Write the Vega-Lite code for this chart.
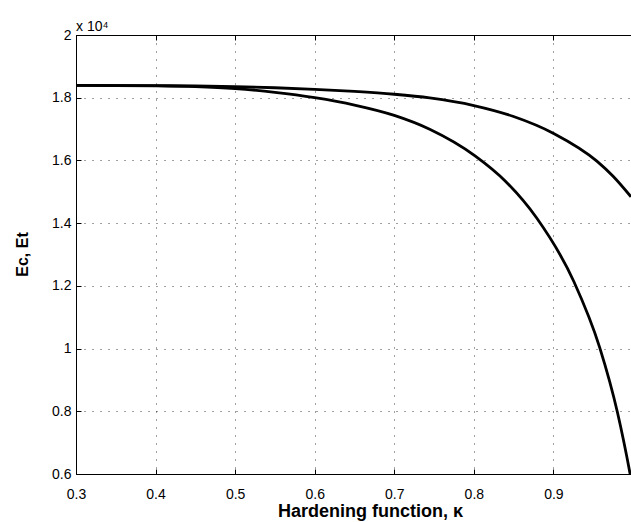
{
  "$schema": "https://vega.github.io/schema/vega-lite/v6.json",
  "width": 555,
  "height": 439,
  "autosize": {"type": "none"},
  "padding": {"left": 76, "top": 35, "right": 0, "bottom": 48},
  "background": "white",
  "config": {
    "view": {"stroke": null},
    "font": "Liberation Sans",
    "axis": {"labelFont": "Liberation Sans", "titleFont": "Liberation Sans", "labelColor": "#000", "titleColor": "#000"}
  },
  "title": {"text": "x 10⁴", "anchor": "start", "frame": "group", "fontSize": 14, "fontWeight": "normal", "font": "Liberation Sans", "color": "#000", "baseline": "alphabetic", "offset": -17},
  "data": {"values": [
    {"kappa": 0.30, "E": 18396, "series": "Et"},
    {"kappa": 0.40, "E": 18386, "series": "Et"},
    {"kappa": 0.45, "E": 18374, "series": "Et"},
    {"kappa": 0.50, "E": 18352, "series": "Et"},
    {"kappa": 0.55, "E": 18317, "series": "Et"},
    {"kappa": 0.60, "E": 18267, "series": "Et"},
    {"kappa": 0.65, "E": 18200, "series": "Et"},
    {"kappa": 0.70, "E": 18110, "series": "Et"},
    {"kappa": 0.7445, "E": 17993, "series": "Et"},
    {"kappa": 0.80, "E": 17751, "series": "Et"},
    {"kappa": 0.849, "E": 17409, "series": "Et"},
    {"kappa": 0.9009, "E": 16854, "series": "Et"},
    {"kappa": 0.9546, "E": 15979, "series": "Et"},
    {"kappa": 0.975, "E": 15496, "series": "Et"},
    {"kappa": 0.9975, "E": 14841, "series": "Et"},
    {"kappa": 0.30, "E": 18396, "series": "Ec"},
    {"kappa": 0.40, "E": 18378, "series": "Ec"},
    {"kappa": 0.45, "E": 18352, "series": "Ec"},
    {"kappa": 0.50, "E": 18290, "series": "Ec"},
    {"kappa": 0.55, "E": 18170, "series": "Ec"},
    {"kappa": 0.60, "E": 18000, "series": "Ec"},
    {"kappa": 0.65, "E": 17765, "series": "Ec"},
    {"kappa": 0.70, "E": 17436, "series": "Ec"},
    {"kappa": 0.7445, "E": 16995, "series": "Ec"},
    {"kappa": 0.8015, "E": 16146, "series": "Ec"},
    {"kappa": 0.84, "E": 15330, "series": "Ec"},
    {"kappa": 0.879, "E": 14162, "series": "Ec"},
    {"kappa": 0.9258, "E": 12131, "series": "Ec"},
    {"kappa": 0.9583, "E": 10022, "series": "Ec"},
    {"kappa": 0.9805, "E": 7960, "series": "Ec"},
    {"kappa": 0.9961, "E": 6041, "series": "Ec"},
    {"kappa": 0.9975, "E": 5850, "series": "Ec"}
  ]},
  "resolve": {"axis": {"x": "independent"}},
  "layer": [
    {
      "mark": {"type": "line", "color": "#000", "strokeWidth": 2.8, "clip": true, "interpolate": "monotone"},
      "encoding": {
        "x": {"field": "kappa", "type": "quantitative",
          "scale": {"domain": [0.3, 0.9975], "nice": false, "zero": false},
          "axis": {"orient": "bottom", "values": [0.3, 0.4, 0.5, 0.6, 0.7, 0.8, 0.9], "format": ".1f",
            "domainColor": "#000", "domainWidth": 1, "tickColor": "#000", "tickSize": -5, "labelPadding": 18,
            "labelFontSize": 14, "grid": true, "gridColor": "#000", "gridDash": [1, 7], "gridOpacity": 0.75, "gridWidth": 1,
            "title": "Hardening function,  κ", "titleFontSize": 18, "titleFontWeight": "bold",
            "titleX": 294, "titleY": 42, "titleBaseline": "alphabetic", "titleAlign": "center", "labelFlush": false}},
        "y": {"field": "E", "type": "quantitative",
          "scale": {"domain": [6000, 20000], "nice": false, "zero": false},
          "axis": {"orient": "left", "values": [6000, 8000, 10000, 12000, 14000, 16000, 18000, 20000],
            "labelExpr": "format(datum.value/10000, '~g')",
            "domainColor": "#000", "domainWidth": 1, "tickColor": "#000", "tickSize": -5, "labelPadding": 10,
            "labelFontSize": 14, "grid": true, "gridColor": "#000", "gridDash": [1, 7], "gridOpacity": 0.75, "gridWidth": 1,
            "title": "Ec, Et", "titleFontSize": 16, "titleFontWeight": "bold", "titleAngle": -90,
            "titleX": -49, "titleY": 219, "titleBaseline": "alphabetic", "titleAlign": "center", "labelFlush": false}},
        "detail": {"field": "series", "type": "nominal"}
      }
    },
    {
      "mark": {"type": "line", "strokeOpacity": 0, "clip": true},
      "encoding": {
        "x": {"field": "kappa", "type": "quantitative",
          "axis": {"orient": "top", "values": [0.3, 0.4, 0.5, 0.6, 0.7, 0.8, 0.9], "labels": false, "title": null, "grid": false,
            "domainColor": "#000", "domainWidth": 1, "tickColor": "#000", "tickSize": -5}},
        "y": {"field": "E", "type": "quantitative"},
        "detail": {"field": "series", "type": "nominal"}
      }
    }
  ]
}
